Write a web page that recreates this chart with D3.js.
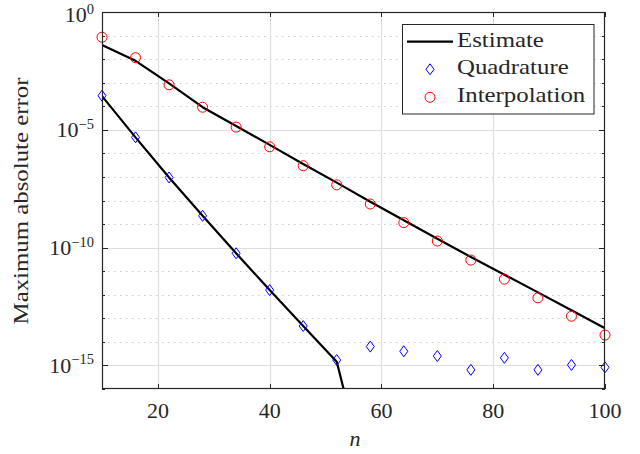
<!DOCTYPE html>
<html>
<head>
<meta charset="utf-8">
<script src="https://cdn.jsdelivr.net/npm/d3@7/dist/d3.min.js"></script>
</head>
<body style="margin:0">
<svg id="chart" width="640" height="454"></svg>
<script>
// Polynomial degree n and measured / estimated maximum absolute errors
const nValues = [10, 16, 22, 28, 34, 40, 46, 52, 58, 64, 70, 76, 82, 88, 94, 100];

const interpolationError = [8.5e-2, 1.15e-2, 8.1e-4, 9.1e-5, 1.3e-5, 1.9e-6, 3.0e-7, 4.6e-8,
                            7.1e-9, 1.15e-9, 1.9e-10, 2.95e-11, 4.6e-12, 7.4e-13, 1.23e-13, 1.95e-14];

const interpolationEstimate = [4.0e-2, 8.5e-3, 9.3e-4, 9.1e-5, 1.45e-5, 2.3e-6, 3.55e-7, 5.75e-8,
                               8.9e-9, 1.45e-9, 2.4e-10, 4.0e-11, 7.1e-12, 1.26e-12, 2.2e-13, 3.8e-14];

const quadratureError = [2.8e-4, 4.8e-6, 9.5e-8, 2.24e-9, 5.75e-11, 1.58e-12, 4.7e-14, 1.7e-15,
                         6.3e-15, 4.0e-15, 2.5e-15, 6.5e-16, 2.1e-15, 6.5e-16, 1.05e-15, 8.3e-16];

const quadratureEstimateN = [10, 16, 22, 28, 34, 40, 46, 52, 58];
const quadratureEstimate = [2.7e-4, 4.8e-6, 9.5e-8, 2.24e-9, 5.75e-11, 1.58e-12, 4.7e-14, 1.45e-15, 3.2e-21];

const xTicks = [20, 40, 60, 80, 100];
const yMajorExponents = [0, -5, -10, -15];
const legendLabels = ["Estimate", "Quadrature", "Interpolation"];
const xLabel = "n";
const yLabel = "Maximum absolute error";

// ---- layout ----
const plot = { left: 102, right: 605, top: 12, bottom: 389 };
const axisColor = "#262626";
const labelFill = "#262626";
const serifFamily = '"Liberation Serif", Tinos, "Times New Roman", serif';
const textSize = 22;
const yLabelLength = 247;   // rendered length of the y-axis title

const svg = d3.select("#chart");
svg.append("rect").attr("width", 640).attr("height", 454).attr("fill", "#fff");

// every text element carries the serif face itself
function addText(parent) {
  return parent.append("text")
    .style("font-family", serifFamily)
    .attr("font-size", textSize)
    .attr("fill", labelFill);
}

// horizontal stretch so running text has the wide look of a TeX face
const probe = addText(svg).text(yLabel);
const wordStretch = Math.max(0.85, Math.min(1.3, yLabelLength / probe.node().getComputedTextLength()));
probe.remove();

const x = d3.scaleLinear().domain([10, 100]).range([plot.left, plot.right]);
const y = d3.scaleLog().domain([1e-16, 1]).range([plot.bottom, plot.top]);

svg.append("defs").append("clipPath").attr("id", "plotClip")
  .append("rect")
  .attr("x", plot.left).attr("y", plot.top)
  .attr("width", plot.right - plot.left).attr("height", plot.bottom - plot.top);

// ---- grid ----
const grid = svg.append("g");
const decades = d3.range(-1, -16, -1);
grid.selectAll("line.minor")
  .data(decades.filter(e => e % 5 !== 0))
  .join("line")
  .attr("x1", plot.left).attr("x2", plot.right)
  .attr("y1", e => Math.round(y(Math.pow(10, e))) + 0.5)
  .attr("y2", e => Math.round(y(Math.pow(10, e))) + 0.5)
  .attr("stroke", "#c8c8c8").attr("stroke-width", 1)
  .attr("stroke-dasharray", "1.5,4.5");

grid.selectAll("line.majorY")
  .data(yMajorExponents.filter(e => e !== 0))
  .join("line")
  .attr("x1", plot.left).attr("x2", plot.right)
  .attr("y1", e => Math.round(y(Math.pow(10, e))) + 0.5)
  .attr("y2", e => Math.round(y(Math.pow(10, e))) + 0.5)
  .attr("stroke", "#dedede").attr("stroke-width", 1.2);

grid.selectAll("line.majorX")
  .data(xTicks.filter(t => t < 100))
  .join("line")
  .attr("x1", t => Math.round(x(t)) + 0.5).attr("x2", t => Math.round(x(t)) + 0.5)
  .attr("y1", plot.top).attr("y2", plot.bottom)
  .attr("stroke", "#dedede").attr("stroke-width", 1.2);

// ---- estimate curves ----
const data = svg.append("g").attr("clip-path", "url(#plotClip)");
const line = d3.line().x(d => x(d[0])).y(d => y(d[1]));

data.append("path")
  .datum(nValues.map((n, i) => [n, interpolationEstimate[i]]))
  .attr("d", line)
  .attr("fill", "none").attr("stroke", "#000").attr("stroke-width", 2.2)
  .attr("stroke-linejoin", "round");

data.append("path")
  .datum(quadratureEstimateN.map((n, i) => [n, quadratureEstimate[i]]))
  .attr("d", line)
  .attr("fill", "none").attr("stroke", "#000").attr("stroke-width", 2.2)
  .attr("stroke-linejoin", "round");

// ---- markers ----
const diamond = "M0,-5.5L4,0L0,5.5L-4,0Z";

svg.append("g").selectAll("path")
  .data(nValues.map((n, i) => [n, quadratureError[i]]))
  .join("path")
  .attr("transform", d => `translate(${x(d[0])},${y(d[1])})`)
  .attr("d", diamond)
  .attr("fill", "none").attr("stroke", "#0000ff").attr("stroke-width", 1);

svg.append("g").selectAll("circle")
  .data(nValues.map((n, i) => [n, interpolationError[i]]))
  .join("circle")
  .attr("cx", d => x(d[0])).attr("cy", d => y(d[1]))
  .attr("r", 5)
  .attr("fill", "none").attr("stroke", "#ff0000").attr("stroke-width", 1);

// ---- axes box and ticks ----
const axes = svg.append("g").attr("stroke", axisColor).attr("fill", "none");
axes.append("rect")
  .attr("x", plot.left + 0.5).attr("y", plot.top + 0.5)
  .attr("width", plot.right - plot.left - 1).attr("height", plot.bottom - plot.top - 1)
  .attr("stroke-width", 1.2);

xTicks.forEach(t => {
  const px = Math.round(x(t)) + 0.5;
  axes.append("line").attr("x1", px).attr("x2", px).attr("y1", plot.bottom).attr("y2", plot.bottom - 5);
  axes.append("line").attr("x1", px).attr("x2", px).attr("y1", plot.top).attr("y2", plot.top + 5);
});

d3.range(0, -17, -1).forEach(e => {
  const py = Math.round(y(Math.pow(10, e))) + 0.5;
  const len = e % 5 === 0 ? 6 : 3;
  axes.append("line").attr("x1", plot.left).attr("x2", plot.left + len).attr("y1", py).attr("y2", py);
  axes.append("line").attr("x1", plot.right).attr("x2", plot.right - len).attr("y1", py).attr("y2", py);
});

// ---- tick labels ----
const xTickGroup = svg.append("g");
xTicks.forEach(t => {
  addText(xTickGroup)
    .attr("x", x(t)).attr("y", 418)
    .attr("text-anchor", "middle")
    .text(t);
});

// the topmost label is nudged down so its exponent stays inside the page
const yTickGroup = svg.append("g");
yMajorExponents.forEach(e => {
  const label = addText(yTickGroup)
    .attr("x", 94).attr("y", Math.max(y(Math.pow(10, e)) + 7.5, 22))
    .attr("text-anchor", "end");
  label.append("tspan").text("10");
  label.append("tspan")
    .attr("font-size", 14.5).attr("dy", -8.5)
    .text(e === 0 ? "0" : "\u2212" + Math.abs(e));
});

// ---- axis titles ----
addText(svg)
  .attr("transform", "translate(355,446)")
  .attr("text-anchor", "middle")
  .attr("font-style", "italic")
  .text(xLabel);

addText(svg)
  .attr("transform", `translate(28,201) rotate(-90) scale(${wordStretch},1)`)
  .attr("text-anchor", "middle")
  .text(yLabel);

// ---- legend ----
const legend = svg.append("g");
legend.append("rect")
  .attr("x", 402.5).attr("y", 24.5).attr("width", 191.5).attr("height", 89.5)
  .attr("fill", "#fff").attr("stroke", axisColor).attr("stroke-width", 1);

const rowY = [41.7, 69.3, 97.3];
legend.append("line")
  .attr("x1", 407).attr("x2", 453).attr("y1", rowY[0]).attr("y2", rowY[0])
  .attr("stroke", "#000").attr("stroke-width", 2.2);
legend.append("path")
  .attr("transform", `translate(430,${rowY[1]})`)
  .attr("d", diamond)
  .attr("fill", "none").attr("stroke", "#0000ff").attr("stroke-width", 1);
legend.append("circle")
  .attr("cx", 430).attr("cy", rowY[2]).attr("r", 5)
  .attr("fill", "none").attr("stroke", "#ff0000").attr("stroke-width", 1);

legendLabels.forEach((label, i) => {
  addText(legend)
    .attr("transform", `translate(457,${rowY[i] + 5}) scale(${wordStretch},1)`)
    .text(label);
});
</script>
</body>
</html>
